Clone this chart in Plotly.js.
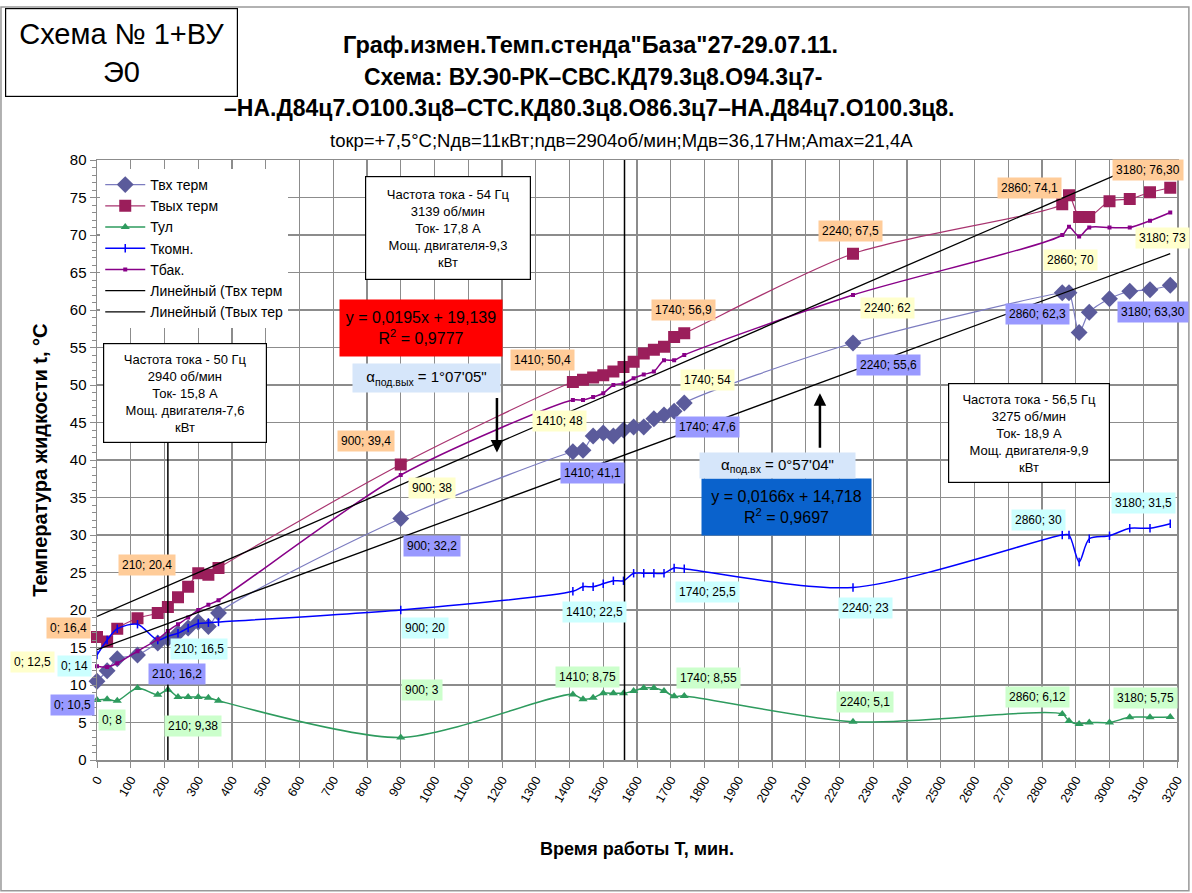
<!DOCTYPE html>
<html><head><meta charset="utf-8">
<script src="https://cdn.plot.ly/plotly-3.0.1.min.js"></script>
<style>body{margin:0;background:#fff}#chart{width:1192px;height:893px}</style>
</head><body><div id="chart"></div>
<script>
// ---- data ----
const timeMin = [0, 30, 60, 120, 180, 210, 240, 270, 300, 330, 360, 900, 1410, 1440, 1470, 1500, 1530, 1560, 1590, 1620, 1650, 1680, 1710, 1740, 2240, 2860, 2880, 2910, 2940, 3000, 3060, 3120, 3180];
const tInTerm  = [10.5, 11.9, 13.5, 14.0, 15.6, 16.2, 16.9, 17.6, 18.4, 17.8, 19.6, 32.2, 41.1, 41.3, 43.2, 43.6, 43.2, 44.0, 44.4, 44.4, 45.5, 46.0, 46.5, 47.6, 55.6, 62.3, 62.3, 57.0, 59.7, 61.5, 62.5, 62.7, 63.3];
const tOutTerm = [16.4, 15.8, 17.5, 18.9, 19.6, 20.4, 21.7, 23.1, 24.9, 24.7, 25.6, 39.4, 50.4, 50.7, 51.0, 51.3, 51.8, 52.4, 53.1, 54.2, 54.7, 55.1, 56.4, 56.9, 67.5, 74.1, 75.3, 72.4, 72.4, 74.5, 74.8, 75.7, 76.3];
const tAmb     = [8.0, 8.1, 7.9, 9.6, 8.7, 9.38, 8.4, 8.4, 8.4, 8.3, 7.9, 3.0, 8.75, 8.1, 8.3, 8.9, 8.9, 8.9, 9.2, 9.6, 9.6, 9.2, 8.5, 8.55, 5.1, 6.12, 5.2, 4.8, 5.0, 5.0, 5.7, 5.7, 5.75];
const tRoom    = [14.0, 16.0, 17.5, 18.1, 16.0, 16.5, 16.9, 17.6, 18.2, 18.3, 18.4, 20.0, 22.5, 23.1, 23.1, 23.5, 23.9, 23.9, 24.9, 24.9, 24.9, 24.9, 25.6, 25.5, 23.0, 30.0, 30.0, 26.4, 29.5, 29.9, 30.9, 30.9, 31.5];
const tTank    = [12.5, 12.4, 12.9, 14.5, 16.1, 17.2, 18.1, 19.0, 20.0, 20.7, 21.3, 38.0, 48.0, 48.0, 48.4, 48.9, 50.0, 50.2, 50.9, 51.4, 51.8, 53.3, 53.3, 54.0, 62.0, 70.0, 71.1, 69.8, 71.0, 71.0, 71.0, 71.9, 73.0];

const labelTimes = [0, 210, 900, 1410, 1740, 2240, 2860, 3180];
const inLabels   = ["10,5", "16,2", "32,2", "41,1", "47,6", "55,6", "62,3", "63,30"];
const outLabels  = ["16,4", "20,4", "39,4", "50,4", "56,9", "67,5", "74,1", "76,30"];
const ambLabels  = ["8", "9,38", "3", "8,75", "8,55", "5,1", "6,12", "5,75"];
const roomLabels = ["14", "16,5", "20", "22,5", "25,5", "23", "30", "31,5"];
const tankLabels = ["12,5", null, "38", "48", "54", "62", "70", "73"];

const trendIn  = {slope: 0.0166, intercept: 14.718, r2: "0,9697"};
const trendOut = {slope: 0.0195, intercept: 19.139, r2: "0,9777"};
const trendRange = [0, 3180];

const eventTimes = [210, 1563];

const infoBox50 = ["Частота тока - 50 Гц", "2940 об/мин", "Ток- 15,8 А", "Мощ. двигателя-7,6", "кВт"];
const infoBox54 = ["Частота тока - 54 Гц", "3139 об/мин", "Ток- 17,8 А", "Мощ. двигателя-9,3", "кВт"];
const infoBox565 = ["Частота тока - 56,5 Гц", "3275 об/мин", "Ток- 18,9 А", "Мощ. двигателя-9,9", "кВт"];

const xTicks = Array.from({length: 33}, (_, i) => i * 100);

// ---- styles ----
const F = "Liberation Sans, Arial, sans-serif";
const series = [
  {name: "Твх терм", y: tInTerm, labels: inLabels, bg: "#9999FF",
   marker: {symbol: "diamond", size: 13, color: "#5B5B9B"}, line: {color: "#7C7CC0", width: 1.2},
   off: [[-25,-24],[9,-35],[31,-27],[20,-21],[23,-24],[35,-22],[-25,-21],[-17,-27]]},
  {name: "Твых терм", y: tOutTerm, labels: outLabels, bg: "#FFCC99",
   marker: {symbol: "square", size: 12, color: "#9B1E5B"}, line: {color: "#A8336F", width: 1.2},
   off: [[-29,9],[-21,42],[-35,24],[-30,22],[-1,23],[-3,23],[-33,16],[-22,18]]},
  {name: "Тул", y: tAmb, labels: ambLabels, bg: "#CCFFCC",
   marker: {symbol: "triangle-up", size: 8, color: "#2E9B5E"}, line: {color: "#2E9B5E", width: 1.5},
   off: [[15,-20],[25,-36],[21,48],[15,17],[24,18],[12,20],[-25,17],[-25,19]]},
  {name: "Ткомн.", y: tRoom, labels: roomLabels, bg: "#CCFFFF",
   marker: {symbol: "line-ns-open", size: 6, color: "#0000FF", line: {width: 1.5, color: "#0000FF"}}, line: {color: "#0000FF", width: 1.5},
   off: [[-23,-11],[31,-13],[24,-18],[22,-21],[23,-23],[12,-20],[-24,15],[-27,21]]},
  {name: "Тбак.", y: tTank, labels: tankLabels, bg: "#FFFFCC",
   marker: {symbol: "square", size: 4, color: "#880088"}, line: {color: "#880088", width: 1.5},
   off: [[-65,4],[0,0],[31,-13],[-13,-21],[23,-25],[34,-13],[8,-25],[-8,-25]]}
];

const traces = series.map(s => ({
  type: "scatter", mode: "lines+markers", name: s.name, x: timeMin, y: s.y,
  marker: s.marker, line: Object.assign({shape: "spline", smoothing: 0.8}, s.line), cliponaxis: false
}));
[[trendIn, "Линейный (Твх терм"], [trendOut, "Линейный (Твых тер"]].forEach(([t, nm]) => {
  traces.push({type: "scatter", mode: "lines", name: nm, x: trendRange,
    y: trendRange.map(x => t.slope * x + t.intercept), line: {color: "#000", width: 1.3}});
});

const annotations = [];
series.forEach(s => {
  labelTimes.forEach((t, k) => {
    if (s.labels[k] === null) return;
    const idx = timeMin.indexOf(t);
    annotations.push({x: t, y: s.y[idx], xref: "x", yref: "y", showarrow: false,
      text: t + "; " + s.labels[k], xshift: s.off[k][0], yshift: s.off[k][1],
      xanchor: "center", yanchor: "middle", bgcolor: s.bg, borderpad: 3,
      font: {family: F, size: 12, color: "#000"}});
  });
});

function box(lines, x, y, w, h) {
  return {x: x, y: y, xref: "x", yref: "y", showarrow: false, text: lines.join("<br>"),
    width: w, height: h, bgcolor: "#fff", bordercolor: "#000", borderwidth: 1.2, borderpad: 0,
    xanchor: "center", yanchor: "middle", font: {family: F, size: 13, color: "#000"}};
}
annotations.push(box(infoBox54, 1040, 70.9, 164, 102));
annotations.push(box(infoBox50, 261, 48.9, 162, 98));
annotations.push(box(infoBox565, 2761, 43.6, 160, 98));

const fmt = v => String(v).replace(".", ",");
annotations.push({x: 960, y: 57.6, xref: "x", yref: "y", showarrow: false,
  text: "y = " + fmt(trendOut.slope) + "x + " + fmt(trendOut.intercept) + "<br>R<sup>2</sup> = " + trendOut.r2,
  width: 160, height: 54, bgcolor: "#FF0000", font: {family: F, size: 16, color: "#000"}});
annotations.push({x: 975, y: 50.9, xref: "x", yref: "y", showarrow: false,
  text: "α<sub>под.вых</sub> = 1°07'05\"", width: 145, height: 26, bgcolor: "#D6E6FA",
  font: {family: F, size: 15, color: "#000"}});
annotations.push({x: 2044, y: 33.7, xref: "x", yref: "y", showarrow: false,
  text: "y = " + fmt(trendIn.slope) + "x + " + fmt(trendIn.intercept) + "<br>R<sup>2</sup> = " + trendIn.r2,
  width: 167, height: 54, bgcolor: "#0A62CC", font: {family: F, size: 16, color: "#000"}});
annotations.push({x: 2015, y: 39.3, xref: "x", yref: "y", showarrow: false,
  text: "α<sub>под.вх</sub> = 0°57'04\"", width: 153, height: 23, bgcolor: "#D6E6FA",
  font: {family: F, size: 15, color: "#000"}});
// arrows
annotations.push({x: 1185, y: 41.0, xref: "x", yref: "y", ax: 0, ay: -56, text: "", showarrow: true,
  arrowhead: 2, arrowsize: 1, arrowwidth: 2.5, arrowcolor: "#000"});
annotations.push({x: 2142, y: 48.9, xref: "x", yref: "y", ax: 0, ay: 56, text: "", showarrow: true,
  arrowhead: 2, arrowsize: 1, arrowwidth: 2.5, arrowcolor: "#000"});
// scheme box
annotations.push({x: 0.0227, y: 1.179, xref: "paper", yref: "paper", xanchor: "center", yanchor: "middle",
  showarrow: false, text: "Схема № 1+ВУ<br>Э0", width: 229, height: 85, bgcolor: "#fff", bordercolor: "#000",
  borderwidth: 1.2, font: {family: F, size: 29, color: "#000"}});
// y axis title (placed precisely)
annotations.push({x: -0.053, y: 0.5, xref: "paper", yref: "paper", xanchor: "center", yanchor: "middle",
  showarrow: false, textangle: -90, text: "<b>Температура жидкости t, °С</b>",
  font: {family: F, size: 20, color: "#000"}});
// title lines
const titleLines = [
  ["<b>Схема: ВУ.Э0-РК–СВС.КД79.3ц8.О94.3ц7-</b>", 0.460, 1.138, 23],
  ["<b>–НА.Д84ц7.О100.3ц8–СТС.КД80.3ц8.О86.3ц7–НА.Д84ц7.О100.3ц8.</b>", 0.456, 1.0867, 23],
  ["tокр=+7,5°С;Nдв=11кВт;nдв=2904об/мин;Mдв=36,17Нм;Amax=21,4А", 0.486, 1.0317, 18.5]
];
titleLines.forEach(([t, x, y, s]) => annotations.push({x: x, y: y, xref: "paper", yref: "paper",
  showarrow: false, text: t, xanchor: "center", yanchor: "middle", font: {family: F, size: s, color: "#000"}}));

const shapes = [
  {type: "line", xref: "x", yref: "y", x0: eventTimes[0], x1: eventTimes[0], y0: 0, y1: 50, line: {color: "#000", width: 1.5}},
  {type: "line", xref: "x", yref: "y", x0: eventTimes[1], x1: eventTimes[1], y0: 0, y1: 80, line: {color: "#000", width: 1.5}},
  {type: "rect", xref: "paper", yref: "paper", x0: -0.0889, x1: 1.011, y0: -0.218, y1: 1.255,
   line: {color: "#999", width: 1.5}, layer: "below"}
];

const layout = {
  width: 1192, height: 893,
  margin: {l: 97, r: 15, t: 160, b: 133},
  paper_bgcolor: "#fff", plot_bgcolor: "#fff",
  font: {family: F, color: "#000"},
  title: {text: "<b>Граф.измен.Темп.стенда\"База\"27-29.07.11.</b>", xref: "paper", x: 0.457,
    yref: "container", y: 1 - 45 / 893, yanchor: "middle", xanchor: "center",
    font: {family: F, size: 23.5, color: "#000"}},
  showlegend: true,
  legend: {x: 0.003, y: 0.985, xanchor: "left", yanchor: "top", bgcolor: "#fff",
    borderwidth: 0, font: {family: F, size: 14, color: "#000"}, itemwidth: 40, traceorder: "normal"},
  xaxis: {range: [0, 3200], tickvals: xTicks, ticktext: xTicks.map(String), tickangle: -60,
    tickfont: {family: F, size: 12.5, color: "#000"}, ticks: "outside", ticklen: 6, tickcolor: "#8c8c8c",
    showgrid: true, gridcolor: "#8c8c8c", gridwidth: 1.2, showline: true, linecolor: "#8c8c8c",
    linewidth: 1.5, mirror: true, zeroline: false,
    title: {text: "<b>Время работы Т, мин.</b>", font: {family: F, size: 18, color: "#000"}, standoff: 38}},
  yaxis: {range: [0, 80], dtick: 5, tickfont: {family: F, size: 15, color: "#000"},
    ticks: "outside", ticklen: 6, tickcolor: "#8c8c8c",
    minor: {dtick: 1, ticks: "outside", ticklen: 4, tickcolor: "#8c8c8c", showgrid: false},
    showgrid: true, gridcolor: "#8c8c8c", gridwidth: 1.2, showline: true, linecolor: "#8c8c8c",
    linewidth: 1.5, mirror: true, zeroline: false},
  annotations: annotations,
  shapes: shapes
};

Plotly.newPlot("chart", traces, layout, {displayModeBar: false, staticPlot: true});
</script>
</body></html>
